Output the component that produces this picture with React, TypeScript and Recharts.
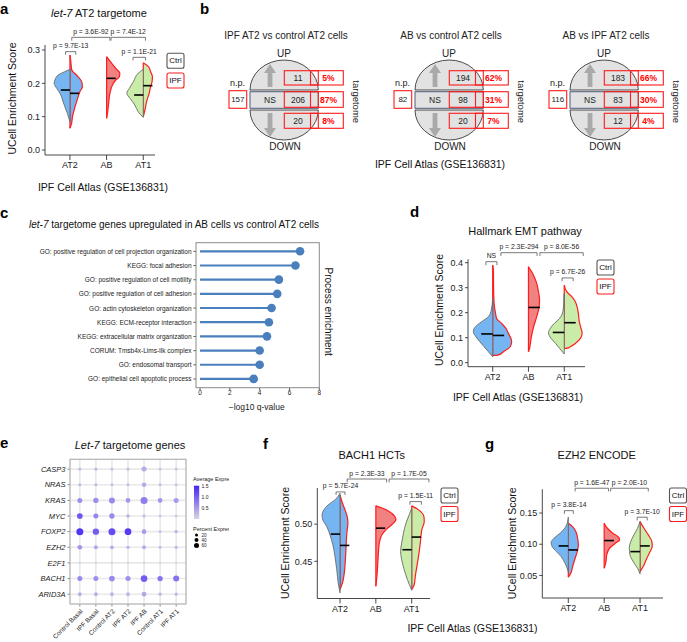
import React from 'react';
import {
  ComposedChart, Area, XAxis, YAxis, ReferenceLine, ScatterChart, Scatter,
  CartesianGrid, BarChart, Bar,
} from 'recharts';

const FONT = '"Liberation Sans", Arial, Helvetica, sans-serif';
const BLUE = '#75b5f1';
const GREEN = '#c9eca9';
const PINK = '#f08282';
const CTRL_LINE = '#6a6a6a';
const IPF_LINE = '#ff1c1c';
const LOLLI = '#4a7fbd';

type Pt = [number, number];
type Bracket = [number, number, number, number, string];

const VIOLIN_CATS = ['AT2', 'AB', 'AT1'];

// ---------- panel a: let-7 AT2 targetome ----------
const A_AT2_CTRL: Pt[] = [[0.242, 0], [0.235, 0.14], [0.225, 0.32], [0.21, 0.41], [0.2, 0.43], [0.185, 0.36], [0.17, 0.27], [0.15, 0.2], [0.13, 0.14], [0.11, 0.07], [0.085, 0]];
const A_AT2_IPF: Pt[] = [[0.285, 0], [0.27, 0.02], [0.24, 0.05], [0.225, 0.18], [0.205, 0.32], [0.19, 0.34], [0.175, 0.27], [0.155, 0.21], [0.13, 0.14], [0.1, 0.07], [0.08, 0.045], [0.065, 0]];
const A_AB_IPF: Pt[] = [[0.28, 0], [0.26, 0.14], [0.245, 0.25], [0.23, 0.36], [0.22, 0.35], [0.21, 0.25], [0.195, 0.16], [0.17, 0.09], [0.14, 0.055], [0.115, 0.03], [0.095, 0]];
const A_AT1_CTRL: Pt[] = [[0.242, 0], [0.23, 0.14], [0.205, 0.27], [0.185, 0.38], [0.17, 0.45], [0.155, 0.36], [0.135, 0.23], [0.115, 0.14], [0.098, 0]];
const A_AT1_IPF: Pt[] = [[0.262, 0], [0.25, 0.14], [0.235, 0.2], [0.22, 0.25], [0.205, 0.24], [0.19, 0.2], [0.17, 0.16], [0.145, 0.09], [0.12, 0.045], [0.1, 0]];
const A_MEDIANS = [0.18, 0.17, 0.215, 0.165, 0.193];
const A_BRACKETS: Bracket[] = [
  [1.05, 2.09, 0.338, 0.328, 'p = 3.6E-92'],
  [2.12, 3.06, 0.338, 0.328, 'p = 7.4E-12'],
  [0.88, 1.16, 0.295, 0.286, 'p = 9.7E-13'],
  [2.72, 3.06, 0.278, 0.269, 'p = 1.1E-21'],
];
const A_YTICKS = [0, 0.1, 0.2, 0.3];

// ---------- panel d: Hallmark EMT ----------
const D_AT2_CTRL: Pt[] = [[0.257, 0], [0.21, 0.04], [0.184, 0.12], [0.164, 0.31], [0.151, 0.43], [0.137, 0.52], [0.124, 0.54], [0.104, 0.47], [0.084, 0.36], [0.064, 0.24], [0.044, 0.12], [0.024, 0]];
const D_AT2_IPF: Pt[] = [[0.39, 0], [0.37, 0.02], [0.3, 0.025], [0.237, 0.04], [0.197, 0.08], [0.177, 0.11], [0.157, 0.25], [0.137, 0.37], [0.117, 0.44], [0.097, 0.51], [0.084, 0.53], [0.064, 0.49], [0.044, 0.3], [0.031, 0.16], [0.028, 0]];
const D_AB_IPF: Pt[] = [[0.384, 0], [0.364, 0.09], [0.344, 0.16], [0.317, 0.23], [0.284, 0.28], [0.251, 0.31], [0.217, 0.29], [0.184, 0.23], [0.151, 0.16], [0.117, 0.1], [0.084, 0.06], [0.057, 0.03], [0.044, 0]];
const D_AT1_CTRL: Pt[] = [[0.277, 0], [0.211, 0.03], [0.177, 0.13], [0.157, 0.28], [0.137, 0.39], [0.12, 0.44], [0.097, 0.37], [0.077, 0.24], [0.057, 0.13], [0.035, 0]];
const D_AT1_IPF: Pt[] = [[0.31, 0], [0.284, 0.07], [0.264, 0.21], [0.244, 0.31], [0.217, 0.37], [0.191, 0.4], [0.164, 0.42], [0.137, 0.47], [0.117, 0.5], [0.097, 0.45], [0.077, 0.31], [0.064, 0.17], [0.058, 0.08], [0.056, 0]];
const D_MEDIANS = [0.115, 0.109, 0.221, 0.121, 0.16];
const D_BRACKETS: Bracket[] = [
  [1.23, 2.24, 0.44, 0.427, 'p = 2.3E-294'],
  [2.32, 3.53, 0.44, 0.427, 'p = 8.0E-56'],
  [0.81, 1.12, 0.404, 0.39, 'NS'],
  [2.94, 3.25, 0.339, 0.326, 'p = 6.7E-26'],
];
const D_YTICKS = [0, 0.1, 0.2, 0.3, 0.4];

// ---------- panel f: BACH1 HCTs ----------
const F_AT2_CTRL: Pt[] = [[0.5415, 0], [0.5326, 0.14], [0.5259, 0.33], [0.5192, 0.45], [0.5125, 0.5], [0.5058, 0.48], [0.4969, 0.37], [0.4857, 0.28], [0.4723, 0.2], [0.4567, 0.14], [0.4388, 0.09], [0.421, 0.05], [0.4076, 0]];
const F_AT2_IPF: Pt[] = [[0.5393, 0], [0.5281, 0.07], [0.5192, 0.14], [0.5103, 0.2], [0.5013, 0.22], [0.4879, 0.19], [0.4701, 0.17], [0.4522, 0.15], [0.4344, 0.12], [0.421, 0.07], [0.4121, 0]];
const F_AB_IPF: Pt[] = [[0.5246, 0], [0.5214, 0.19], [0.517, 0.37], [0.5103, 0.53], [0.5058, 0.56], [0.5013, 0.49], [0.4946, 0.33], [0.4857, 0.17], [0.4723, 0.09], [0.4522, 0.06], [0.4299, 0.03], [0.4165, 0]];
const F_AT1_CTRL: Pt[] = [[0.5214, 0], [0.5125, 0.07], [0.5013, 0.16], [0.4879, 0.23], [0.4746, 0.28], [0.4634, 0.31], [0.4522, 0.28], [0.4388, 0.21], [0.4254, 0.12], [0.4112, 0]];
const F_AT1_IPF: Pt[] = [[0.5246, 0], [0.5192, 0.19], [0.5103, 0.34], [0.5036, 0.35], [0.4924, 0.28], [0.479, 0.25], [0.4634, 0.21], [0.4478, 0.16], [0.4299, 0.1], [0.4188, 0.07], [0.4121, 0]];
const F_MEDIANS = [0.4866, 0.4714, 0.4946, 0.4656, 0.4826];
const F_BRACKETS: Bracket[] = [
  [1.2, 2.3, 0.5607, 0.5562, 'p = 2.3E-33'],
  [2.37, 3.48, 0.5607, 0.5562, 'p = 1.7E-05'],
  [0.89, 1.14, 0.5433, 0.5392, 'p = 5.7E-24'],
  [2.95, 3.27, 0.5303, 0.5262, 'p = 1.5E-11'],
];
const F_YTICKS = [0.45, 0.5];

// ---------- panel g: EZH2 ENCODE ----------
const G_AT2_CTRL: Pt[] = [[0.1433, 0], [0.1283, 0.07], [0.1176, 0.23], [0.1096, 0.4], [0.1027, 0.48], [0.0963, 0.45], [0.0882, 0.33], [0.0802, 0.2], [0.0696, 0.09], [0.0562, 0]];
const G_AT2_IPF: Pt[] = [[0.1337, 0], [0.1283, 0.12], [0.1203, 0.21], [0.1096, 0.26], [0.0989, 0.28], [0.0882, 0.25], [0.0776, 0.19], [0.0642, 0.12], [0.0535, 0.07], [0.0471, 0]];
const G_AB_IPF: Pt[] = [[0.1337, 0], [0.1256, 0.09], [0.1176, 0.24], [0.1112, 0.4], [0.1069, 0.43], [0.1016, 0.31], [0.0936, 0.15], [0.0829, 0.07], [0.0722, 0.05], [0.0615, 0]];
const G_AT1_CTRL: Pt[] = [[0.1363, 0], [0.1256, 0.07], [0.115, 0.17], [0.1043, 0.26], [0.0936, 0.3], [0.0829, 0.28], [0.0722, 0.19], [0.0615, 0.07], [0.0525, 0]];
const G_AT1_IPF: Pt[] = [[0.1363, 0], [0.1256, 0.11], [0.115, 0.23], [0.1043, 0.33], [0.0963, 0.34], [0.0882, 0.28], [0.0776, 0.19], [0.0669, 0.11], [0.0562, 0]];
const G_MEDIANS = [0.0973, 0.0909, 0.1059, 0.0882, 0.0973];
const G_BRACKETS: Bracket[] = [
  [1.19, 2.12, 0.1897, 0.1846, 'p = 1.6E-47'],
  [2.18, 3.23, 0.1897, 0.1846, 'p = 2.0E-10'],
  [0.89, 1.14, 0.1538, 0.1486, 'p = 3.8E-14'],
  [2.92, 3.2, 0.1433, 0.1381, 'p = 3.7E-10'],
];
const G_YTICKS = [0.05, 0.1, 0.15];

// ---------- panel b ----------
const B_TITLES = ['IPF AT2 vs control AT2 cells', 'AB vs control AT2 cells', 'AB vs IPF AT2 cells'];
const B_UP = [11, 194, 183];
const B_NS = [206, 98, 83];
const B_DOWN = [20, 20, 12];
const B_NP = [157, 82, 116];
const B_UP_PCT = ['5%', '62%', '66%'];
const B_NS_PCT = ['87%', '31%', '30%'];
const B_DOWN_PCT = ['8%', '7%', '4%'];

// ---------- panel c ----------
const C_TERMS = [
  'GO: positive regulation of cell projection organization',
  'KEGG: focal adhesion',
  'GO: positive regulation of cell motility',
  'GO: positive regulation of cell adhesion',
  'GO: actin cytoskeleton organization',
  'KEGG: ECM-receptor interaction',
  'KEGG: extracellular matrix organization',
  'CORUM: Tmsb4x-Lims-Ilk complex',
  'GO: endosomal transport',
  'GO: epithelial cell apoptotic process',
];
const C_VALUES = [6.71, 6.4, 5.29, 5.18, 4.8, 4.62, 4.49, 4.0, 4.0, 3.6];
const C_TICKS = [0, 2, 4, 6, 8];

// ---------- panel e ----------
const E_GENES = ['CASP3', 'NRAS', 'KRAS', 'MYC', 'FOXP2', 'EZH2', 'E2F1', 'BACH1', 'ARID3A'];
const E_CELLS = ['Control Basal', 'IPF Basal', 'Control AT2', 'IPF AT2', 'IPF AB', 'Control AT1', 'IPF AT1'];
const E_PCT = [
  [26, 26, 26, 26, 60, 20, 20],
  [20, 20, 20, 20, 54, 20, 20],
  [60, 66, 80, 54, 100, 54, 60],
  [74, 60, 66, 26, 26, 14, 14],
  [100, 86, 100, 94, 54, 14, 26],
  [54, 40, 34, 26, 40, 20, 26],
  [2, 2, 2, 2, 4, 2, 2],
  [60, 60, 74, 60, 94, 66, 80],
  [34, 34, 34, 34, 54, 26, 26],
];
const E_AVG = [
  [0.2, 0.25, 0.15, 0.2, 0.35, 0.15, 0.15],
  [0.25, 0.25, 0.2, 0.2, 0.35, 0.2, 0.15],
  [0.6, 0.6, 0.65, 0.55, 0.75, 0.55, 0.5],
  [1.1, 0.7, 0.65, 0.35, 0.2, 0.15, 0.15],
  [1.4, 1.05, 1.2, 1.35, 0.5, 0.2, 0.3],
  [0.55, 0.4, 0.35, 0.3, 0.35, 0.2, 0.25],
  [0.1, 0.1, 0.1, 0.1, 0.1, 0.05, 0.05],
  [0.65, 0.6, 0.65, 0.6, 1.05, 0.85, 0.85],
  [0.35, 0.35, 0.3, 0.3, 0.4, 0.25, 0.25],
];
const E_LEGEND_PCT = [20, 40, 60];
const E_LEGEND_AVG = [1.5, 1.0, 0.5];
const E_AVG_MAX = 1.52;

// ---------- helpers ----------
type Half = { pos: number; side: 'L' | 'R'; fill: string; pts: Pt[]; median: number; ctrl: boolean };

const HALF_LAYOUT = [
  { pos: 1, side: 'L' as const, fill: BLUE, ctrl: true },
  { pos: 1, side: 'R' as const, fill: BLUE, ctrl: false },
  { pos: 2, side: 'R' as const, fill: PINK, ctrl: false },
  { pos: 3, side: 'L' as const, fill: GREEN, ctrl: true },
  { pos: 3, side: 'R' as const, fill: GREEN, ctrl: false },
];

function makeHalves(pts: Pt[][], medians: number[]): Half[] {
  return HALF_LAYOUT.map((l, i) => ({ ...l, pts: pts[i], median: medians[i] }));
}

function halfData(h: Half) {
  return [...h.pts]
    .sort((a, b) => b[0] - a[0])
    .map(([y, w]) => ({ y, r: h.side === 'L' ? [h.pos - w, h.pos] : [h.pos, h.pos + w] }));
}

type ViolinCfg = {
  id: string;
  left: number; top: number; width: number; height: number;
  marginTop: number; yAxisWidth: number;
  xDomain: [number, number]; yDomain: [number, number]; yTicks: number[]; digits: number;
  halves: Half[]; brackets: Bracket[]; medianLen: number;
};

function ViolinPanel({ cfg }: { cfg: ViolinCfg }) {
  const order = [1, 2, 4, 0, 3];
  const areas = order.map((i) => {
    const h = cfg.halves[i];
    return (
      <Area
        key={`${cfg.id}-area-${i}`}
        data={halfData(h)}
        dataKey="r"
        type="monotone"
        fill={h.fill}
        fillOpacity={1}
        stroke={h.ctrl ? CTRL_LINE : IPF_LINE}
        strokeWidth={h.ctrl ? 0.9 : 1.2}
        dot={false}
        activeDot={false}
        isAnimationActive={false}
      />
    );
  });
  const medians = cfg.halves.map((h, i) => (
    <ReferenceLine
      key={`${cfg.id}-med-${i}`}
      segment={[
        { x: h.side === 'L' ? h.pos - cfg.medianLen : h.pos, y: h.median },
        { x: h.side === 'L' ? h.pos : h.pos + cfg.medianLen, y: h.median },
      ]}
      stroke="#000"
      strokeWidth={1.6}
      ifOverflow="visible"
    />
  ));
  const brackets = cfg.brackets.flatMap((b, i) => [
    <ReferenceLine
      key={`${cfg.id}-bh-${i}`}
      segment={[{ x: b[0], y: b[2] }, { x: b[1], y: b[2] }]}
      stroke="#555"
      strokeWidth={0.8}
      ifOverflow="visible"
      label={{ value: b[4], position: 'top', offset: 3.5, fontSize: 6.8, fill: '#222' }}
    />,
    <ReferenceLine
      key={`${cfg.id}-bl-${i}`}
      segment={[{ x: b[0], y: b[2] }, { x: b[0], y: b[3] }]}
      stroke="#555"
      strokeWidth={0.8}
      ifOverflow="visible"
    />,
    <ReferenceLine
      key={`${cfg.id}-br-${i}`}
      segment={[{ x: b[1], y: b[2] }, { x: b[1], y: b[3] }]}
      stroke="#555"
      strokeWidth={0.8}
      ifOverflow="visible"
    />,
  ]);
  return (
    <div style={{ position: 'absolute', left: cfg.left, top: cfg.top }}>
      <ComposedChart
        layout="vertical"
        width={cfg.width}
        height={cfg.height}
        margin={{ top: cfg.marginTop, right: 5, bottom: 0, left: 0 }}
      >
        <XAxis
          type="number"
          domain={cfg.xDomain}
          ticks={[1, 2, 3]}
          interval={0}
          tickFormatter={(v: number) => VIOLIN_CATS[Math.round(v) - 1] ?? ''}
          height={20}
          tickSize={5}
          axisLine={{ stroke: '#333', strokeWidth: 0.9 }}
          tickLine={{ stroke: '#333', strokeWidth: 0.9 }}
          tick={{ fontSize: 9, fill: '#222' }}
        />
        <YAxis
          type="number"
          dataKey="y"
          reversed
          domain={cfg.yDomain}
          ticks={cfg.yTicks}
          interval={0}
          tickFormatter={(v: number) => v.toFixed(cfg.digits)}
          width={cfg.yAxisWidth}
          tickSize={3}
          axisLine={{ stroke: '#333', strokeWidth: 0.9 }}
          tickLine={{ stroke: '#333', strokeWidth: 0.9 }}
          tick={{ fontSize: 9, fill: '#222' }}
        />
        {areas}
        {medians}
        {brackets}
      </ComposedChart>
    </div>
  );
}

const VIOLINS: ViolinCfg[] = [
  {
    id: 'a', left: 0, top: 0, width: 160, height: 175, marginTop: 45, yAxisWidth: 45,
    xDomain: [0.32, 3.32], yDomain: [-0.015, 0.315], yTicks: A_YTICKS, digits: 1,
    halves: makeHalves([A_AT2_CTRL, A_AT2_IPF, A_AB_IPF, A_AT1_CTRL, A_AT1_IPF], A_MEDIANS),
    brackets: A_BRACKETS, medianLen: 0.25,
  },
  {
    id: 'd', left: 420, top: 236, width: 170, height: 150.7, marginTop: 23.3, yAxisWidth: 48,
    xDomain: [0.31, 3.58], yDomain: [-0.016, 0.4136], yTicks: D_YTICKS, digits: 1,
    halves: makeHalves([D_AT2_CTRL, D_AT2_IPF, D_AB_IPF, D_AT1_CTRL, D_AT1_IPF], D_MEDIANS),
    brackets: D_BRACKETS, medianLen: 0.32,
  },
  {
    id: 'f', left: 270, top: 460, width: 165, height: 158.5, marginTop: 28, yAxisWidth: 47.3,
    xDomain: [0.367, 3.51], yDomain: [0.4, 0.5486], yTicks: F_YTICKS, digits: 2,
    halves: makeHalves([F_AT2_CTRL, F_AT2_IPF, F_AB_IPF, F_AT1_CTRL, F_AT1_IPF], F_MEDIANS),
    brackets: F_BRACKETS, medianLen: 0.26,
  },
  {
    id: 'g', left: 500, top: 465, width: 168, height: 153, marginTop: 24.3, yAxisWidth: 42.3,
    xDomain: [0.275, 3.64], yDomain: [0.0139, 0.188], yTicks: G_YTICKS, digits: 2,
    halves: makeHalves([G_AT2_CTRL, G_AT2_IPF, G_AB_IPF, G_AT1_CTRL, G_AT1_IPF], G_MEDIANS),
    brackets: G_BRACKETS, medianLen: 0.27,
  },
];

// ---------- panel c ----------
const C_ROWS = C_TERMS.map((term, i) => ({ term, q: C_VALUES[i] }));

function Lollipop(props: any) {
  const { x, y, width, height } = props;
  const cy = y + height / 2;
  return (
    <g>
      <line x1={x} y1={cy} x2={x + width} y2={cy} stroke={LOLLI} strokeWidth={2.2} />
      <circle cx={x + width} cy={cy} r={4.3} fill={LOLLI} />
    </g>
  );
}

function CTermTick(props: any) {
  const { x, y, payload } = props;
  return (
    <text x={x} y={y} textAnchor="end" dominantBaseline="central" fontSize={6.5} fill="#222">
      {payload.value}
    </text>
  );
}

function PanelC() {
  return (
    <div style={{ position: 'absolute', left: 0, top: 236 }}>
      <BarChart layout="vertical" width={321.3} height={165.7} data={C_ROWS}
        margin={{ top: 6.7, right: 2, bottom: 0, left: 0 }}>
        <XAxis type="number" domain={[-0.27, 8]} ticks={C_TICKS} interval={0} height={14}
          tickSize={2.5} tickMargin={0.5} axisLine={false} tickLine={{ stroke: '#555' }}
          tick={{ fontSize: 6.5, fill: '#222' }} />
        <YAxis type="category" dataKey="term" width={196} interval={0} tickSize={2.5}
          axisLine={false} tickLine={{ stroke: '#555' }} padding={{ top: 1.6, bottom: 1.6 }}
          tick={<CTermTick />} />
        <Bar dataKey="q" shape={Lollipop} barSize={8} isAnimationActive={false} />
      </BarChart>
    </div>
  );
}

// ---------- panel e ----------
const E_ROWS = E_GENES.flatMap((gene, gi) =>
  E_CELLS.map((cell, ci) => ({ gene, cell, pct: E_PCT[gi][ci], avg: E_AVG[gi][ci] })),
);

const LOW = [216, 212, 228];
const HIGH = [70, 38, 246];
function expColor(avg: number) {
  const t = Math.max(0, Math.min(1, avg / E_AVG_MAX));
  const c = LOW.map((l, i) => Math.round(l + (HIGH[i] - l) * t));
  return `rgb(${c[0]},${c[1]},${c[2]})`;
}
const pctRadius = (p: number) => 1 + 0.025 * p;

function DotShape(props: any) {
  const { cx, cy, payload } = props;
  return <circle cx={cx} cy={cy} r={pctRadius(payload.pct)} fill={expColor(payload.avg)} />;
}

function PanelE() {
  return (
    <div style={{ position: 'absolute', left: 0, top: 440 }}>
      <ScatterChart width={190} height={200} margin={{ top: 19.3, right: 4, bottom: 0, left: 0 }}>
        <CartesianGrid stroke="#e9e9e9" strokeWidth={1.6} />
        <XAxis type="category" dataKey="cell" allowDuplicatedCategory={false} height={36}
          padding={{ left: 1.8, right: 1.8 }} interval={0} angle={-45} tickSize={2.5}
          axisLine={false} tickLine={{ stroke: '#888' }}
          tick={{ fontSize: 6.5, fill: '#222', textAnchor: 'end' }} />
        <YAxis type="category" dataKey="gene" allowDuplicatedCategory={false} reversed
          width={70} padding={{ top: 2, bottom: 2 }} interval={0} tickSize={2.5}
          axisLine={false} tickLine={{ stroke: '#888' }}
          tick={{ fontSize: 7.5, fill: '#222', fontStyle: 'italic' }} />
        <Scatter data={E_ROWS} shape={DotShape} isAnimationActive={false} />
      </ScatterChart>
    </div>
  );
}

// ---------- overlay ----------
function LegendBoxes({ x, y1, y2 }: { x: number; y1: number; y2: number }) {
  const w = 17;
  const h = 15;
  return (
    <g>
      <rect x={x} y={y1} width={w} height={h} rx={2} fill="#fff" stroke="#555" strokeWidth={1.1} />
      <text x={x + w / 2} y={y1 + h / 2} textAnchor="middle" dominantBaseline="central" fontSize={8} fill="#111">Ctrl</text>
      <rect x={x} y={y2} width={w} height={h} rx={2} fill="#fff" stroke={IPF_LINE} strokeWidth={1.1} />
      <text x={x + w / 2} y={y2 + h / 2} textAnchor="middle" dominantBaseline="central" fontSize={8} fill="#111">IPF</text>
    </g>
  );
}

const B_OFFSETS = [0, 165, 320];

function BDiagram({ i }: { i: number }) {
  const dx = B_OFFSETS[i];
  const L = 250 + dx;
  const R = 318.3 + dx;
  const rx = (R - L) / 2;
  const ax = 270 + dx;
  return (
    <g>
      <text x={286 + dx} y={35} textAnchor="middle" dominantBaseline="central" fontSize={10} fill="#222">{B_TITLES[i]}</text>
      <text x={284 + dx} y={53.5} textAnchor="middle" dominantBaseline="central" fontSize={10} fill="#222">UP</text>
      <text x={285 + dx} y={146.7} textAnchor="middle" dominantBaseline="central" fontSize={10} fill="#222">DOWN</text>
      <path d={`M${L},90 A${rx},30 0 0 1 ${R},90 Z`} fill="#e2e2e2" stroke="#222" strokeWidth={0.8} />
      <path d={`M${L},110 A${rx},30 0 0 0 ${R},110 Z`} fill="#e2e2e2" stroke="#222" strokeWidth={0.8} />
      <rect x={L} y={91.7} width={R - L} height={16.6} fill="#e2e2e2" stroke="#4d5a7a" strokeWidth={1} />
      <polygon points={`${ax},64 ${ax + 6},73 ${ax + 2.4},73 ${ax + 2.4},87 ${ax - 2.4},87 ${ax - 2.4},73 ${ax - 6},73`} fill="#a9a9a9" />
      <polygon points={`${ax},137 ${ax + 6},128 ${ax + 2.4},128 ${ax + 2.4},113 ${ax - 2.4},113 ${ax - 2.4},128 ${ax - 6},128`} fill="#a9a9a9" />
      <text x={ax} y={100} textAnchor="middle" dominantBaseline="central" fontSize={8.5} fill="#222">NS</text>
      <text x={237.5 + dx} y={82.5} textAnchor="middle" dominantBaseline="central" fontSize={9} fill="#222">n.p.</text>
      <rect x={229 + dx} y={90.7} width={17.7} height={17.6} fill="#fff" stroke={IPF_LINE} strokeWidth={1.1} />
      <text x={237.85 + dx} y={99.5} textAnchor="middle" dominantBaseline="central" fontSize={8} fill="#222">{B_NP[i]}</text>
      {[
        [70.7, 14.3, B_UP[i], B_UP_PCT[i]],
        [91.7, 15.6, B_NS[i], B_NS_PCT[i]],
        [113.3, 15, B_DOWN[i], B_DOWN_PCT[i]],
      ].map(([y, h, n, p], k) => (
        <g key={k}>
          <rect x={284.3 + dx} y={y as number} width={34} height={h as number} fill="none" stroke={IPF_LINE} strokeWidth={1.1} />
          <rect x={310.5 + dx} y={y as number} width={32.8} height={h as number} fill="none" stroke={IPF_LINE} strokeWidth={1.1} />
          <text x={298 + dx} y={(y as number) + (h as number) / 2} textAnchor="middle" dominantBaseline="central" fontSize={8.5} fill="#222">{n}</text>
          <text x={328.5 + dx} y={(y as number) + (h as number) / 2} textAnchor="middle" dominantBaseline="central" fontSize={8.5} fontWeight="bold" fill="#f00">{p}</text>
        </g>
      ))}
      <text x={356 + dx} y={101.7} transform={`rotate(90 ${356 + dx} 101.7)`} textAnchor="middle" dominantBaseline="central" fontSize={9.5} fill="#222">targetome</text>
    </g>
  );
}

const E_LEG_DOT_Y = [535, 540, 545.5];

function Overlay() {
  const letter = { fontSize: 15, fontWeight: 'bold' as const, fill: '#000' };
  const title = { fontSize: 11, fill: '#111', textAnchor: 'middle' as const, dominantBaseline: 'central' as const };
  const axisTitle = { fontSize: 10.5, fill: '#111', textAnchor: 'middle' as const, dominantBaseline: 'central' as const };
  return (
    <svg width={687} height={642} style={{ position: 'absolute', left: 0, top: 0, pointerEvents: 'none', fontFamily: FONT }}>
      <defs>
        <linearGradient id="expGrad" x1="0" y1="1" x2="0" y2="0">
          <stop offset="0" stopColor={expColor(0)} />
          <stop offset="1" stopColor={expColor(E_AVG_MAX)} />
        </linearGradient>
        <clipPath id="eClip"><rect x={0} y={430} width={229} height={212} /></clipPath>
      </defs>
      {/* panel letters */}
      <text x={0} y={13.5} {...letter}>a</text>
      <text x={200} y={13.5} {...letter}>b</text>
      <text x={0} y={218} {...letter}>c</text>
      <text x={410} y={216.5} {...letter}>d</text>
      <text x={0} y={448} {...letter}>e</text>
      <text x={263} y={449} {...letter}>f</text>
      <text x={485} y={449} {...letter}>g</text>

      {/* panel a */}
      <text x={99} y={13} {...title}><tspan fontStyle="italic">let-7</tspan> AT2 targetome</text>
      <text x={11.7} y={98.5} transform="rotate(-90 11.7 98.5)" {...axisTitle}>UCell Enrichment Score</text>
      <text x={103} y={187} {...axisTitle}>IPF Cell Atlas (GSE136831)</text>
      <LegendBoxes x={167} y1={53.3} y2={73} />

      {/* panel b */}
      {[0, 1, 2].map((i) => <BDiagram key={i} i={i} />)}
      <text x={440} y={164} {...axisTitle}>IPF Cell Atlas (GSE136831)</text>

      {/* panel c */}
      <text x={29} y={224} fontSize={10} fill="#111" dominantBaseline="central"><tspan fontStyle="italic">let-7</tspan> targetome genes upregulated in AB cells vs control AT2 cells</text>
      <rect x={196} y={242.7} width={123.3} height={145} fill="none" stroke="#8a8a8a" strokeWidth={1} />
      <text x={256.7} y={407.3} fontSize={8.5} fill="#222" textAnchor="middle" dominantBaseline="central">−log10 q-value</text>
      <text x={328.3} y={311.7} transform="rotate(90 328.3 311.7)" fontSize={10} fill="#111" textAnchor="middle" dominantBaseline="central">Process enrichment</text>

      {/* panel d */}
      <text x={525} y={231} {...title}>Hallmark EMT pathway</text>
      <text x={439} y={310} transform="rotate(-90 439 310)" {...axisTitle}>UCell Enrichment Score</text>
      <text x={518} y={396.7} {...axisTitle}>IPF Cell Atlas (GSE136831)</text>
      <LegendBoxes x={597} y1={260} y2={279} />

      {/* panel e */}
      <text x={130} y={445} {...title}><tspan fontStyle="italic">Let-7</tspan> targetome genes</text>
      <rect x={70} y={459.3} width={116} height={144.7} fill="none" stroke="#b0b0b0" strokeWidth={1} />
      <g clipPath="url(#eClip)" fill="#222">
        <text x={193} y={481} fontSize={5.5}>Average Expression</text>
        <rect x={194} y={485.7} width={5.2} height={33.3} fill="url(#expGrad)" />
        {E_LEGEND_AVG.map((v) => (
          <text key={v} x={201.5} y={519 - (v / E_AVG_MAX) * 33.3} fontSize={5} dominantBaseline="central">{v.toFixed(1)}</text>
        ))}
        <text x={193} y={530.5} fontSize={5.5}>Percent Expressed</text>
        {E_LEGEND_PCT.map((p, k) => (
          <g key={p}>
            <circle cx={196.5} cy={E_LEG_DOT_Y[k]} r={pctRadius(p)} fill="#000" />
            <text x={201.5} y={E_LEG_DOT_Y[k]} fontSize={4.5} dominantBaseline="central">{p}</text>
          </g>
        ))}
      </g>

      {/* panel f */}
      <text x={371.7} y={455} {...title}>BACH1 HCTs</text>
      <text x={285} y={543} transform="rotate(-90 285 543)" {...axisTitle}>UCell Enrichment Score</text>
      <LegendBoxes x={441} y1={488} y2={506.5} />
      <text x={472.5} y={628.3} {...axisTitle}>IPF Cell Atlas (GSE136831)</text>

      {/* panel g */}
      <text x={596.7} y={455} {...title}>EZH2 ENCODE</text>
      <text x={511.7} y={543.3} transform="rotate(-90 511.7 543.3)" {...axisTitle}>UCell Enrichment Score</text>
      <LegendBoxes x={669.5} y1={488} y2={506.5} />
    </svg>
  );
}

export default function App() {
  return (
    <div style={{ position: 'absolute', left: 0, top: 0, width: 687, height: 642, overflow: 'hidden', background: '#fff', fontFamily: FONT }}>
      {VIOLINS.map((cfg) => <ViolinPanel key={cfg.id} cfg={cfg} />)}
      <PanelC />
      <PanelE />
      <Overlay />
    </div>
  );
}
